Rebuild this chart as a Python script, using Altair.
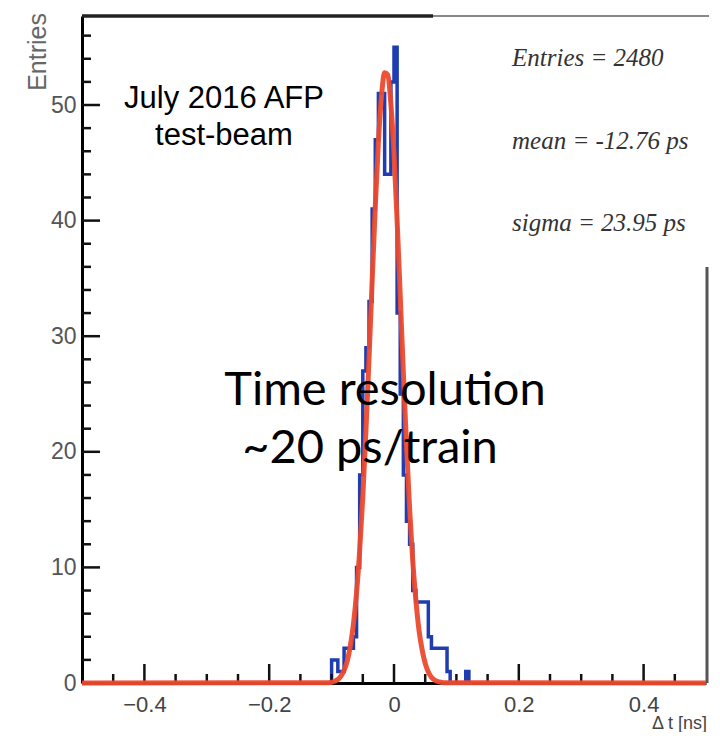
import altair as alt
import pandas as pd

# ---------------- data ----------------
bin_width = 0.005
bin_left = [-0.100, -0.095, -0.090, -0.085, -0.080, -0.075, -0.070, -0.065, -0.060, -0.055,
            -0.050, -0.045, -0.040, -0.035, -0.030, -0.025, -0.020, -0.015, -0.010, -0.005,
            0.000, 0.005, 0.010, 0.015, 0.020, 0.025, 0.030, 0.035, 0.040, 0.045,
            0.050, 0.055, 0.060, 0.065, 0.070, 0.075, 0.080, 0.085, 0.090, 0.095,
            0.100, 0.105, 0.110, 0.115, 0.120]
counts = [2, 2, 1, 1, 3, 3, 3, 4, 10, 18,
          27, 29, 33, 41, 47, 51, 51, 44, 44, 52,
          55, 32, 25, 18, 14, 12, 8, 7, 7, 7,
          7, 4, 3, 3, 3, 3, 3, 1, 0, 0,
          0, 0, 0, 1, 0]

fit_x = [-0.5, -0.110, -0.105, -0.100, -0.095, -0.090, -0.085, -0.080, -0.075, -0.070,
         -0.065, -0.060, -0.055, -0.050, -0.045, -0.040, -0.035, -0.030, -0.025, -0.020,
         -0.015, -0.010, -0.005, 0.000, 0.005, 0.010, 0.015, 0.020, 0.025, 0.030,
         0.035, 0.040, 0.045, 0.050, 0.055, 0.060, 0.065, 0.070, 0.075, 0.080, 0.5]
fit_y = [0.0, 0.02, 0.03, 0.07, 0.15, 0.3, 0.6, 1.1, 1.9, 3.2,
         5.1, 7.8, 11.5, 16.1, 21.8, 28.1, 34.8, 41.2, 46.8, 50.8,
         52.8, 52.6, 50.1, 45.8, 40.0, 33.5, 26.8, 20.6, 15.1, 10.6,
         7.2, 4.6, 2.9, 1.7, 0.96, 0.5, 0.26, 0.13, 0.06, 0.03, 0.0]

x_major = [-0.4, -0.2, 0.0, 0.2, 0.4]
x_minor = [-0.45, -0.35, -0.3, -0.25, -0.15, -0.1, -0.05, 0.05, 0.1, 0.15, 0.25, 0.3, 0.35, 0.45]
y_major = [0, 10, 20, 30, 40, 50]
y_minor = [2, 4, 6, 8, 12, 14, 16, 18, 22, 24, 26, 28, 32, 34, 36, 38, 42, 44, 46, 48, 52, 54, 56]

title_lines = ["July 2016 AFP", "test-beam"]
big_lines = ["Time resolution", "~20 ps/train"]
stat_lines = ["Entries = 2480", "mean = -12.76 ps", "sigma = 23.95 ps"]

# ---------------- layout ----------------
W, H = 624, 667
XDOM = [-0.5, 0.5]
YDOM = [0, 57.7]
xs = alt.Scale(domain=XDOM, nice=False, zero=False)
ys = alt.Scale(domain=YDOM, nice=False, zero=False)

# histogram outline path built from the bins
pts = [(bin_left[0], 0)]
for l, c in zip(bin_left, counts):
    pts.append((l, c))
    pts.append((l + bin_width, c))
pts.append((bin_left[-1] + bin_width, 0))
hist_df = pd.DataFrame({"x": [p[0] for p in pts], "y": [p[1] for p in pts],
                        "o": list(range(len(pts)))})
fit_df = pd.DataFrame({"x": fit_x, "y": fit_y, "o": list(range(len(fit_x)))})

base_x = alt.X("x:Q", scale=xs,
               axis=alt.Axis(values=x_major, title=None, ticks=False, grid=False,
                             domainColor="black", domainWidth=3,
                             labelExpr="datum.value == 0 ? '0' : format(datum.value, '.1f')",
                             labelFontSize=22, labelColor="#444", labelFont="Liberation Sans",
                             labelPadding=11))
base_y = alt.Y("y:Q", scale=ys,
               axis=alt.Axis(values=y_major, title=None, ticks=False, grid=False,
                             domainColor="black", domainWidth=3,
                             labelFontSize=23, labelColor="#555", labelFont="Liberation Sans",
                             labelPadding=6))

hist = alt.Chart(hist_df).mark_line(color="#1f3cb0", strokeWidth=3.5, interpolate="linear").encode(
    x=base_x, y=base_y, order="o:Q")

fit = alt.Chart(fit_df).mark_line(color="#ec4a2e", strokeWidth=5, interpolate="monotone",
                                  opacity=0.95).encode(
    x=alt.X("x:Q", scale=xs), y=alt.Y("y:Q", scale=ys), order="o:Q")

xmaj = alt.Chart(pd.DataFrame({"x": x_major})).mark_rule(color="#111", strokeWidth=2.5).encode(
    x=alt.X("x:Q", scale=xs), y=alt.value(H), y2=alt.value(H - 19))
xmin = alt.Chart(pd.DataFrame({"x": x_minor})).mark_rule(color="#111", strokeWidth=2.5).encode(
    x=alt.X("x:Q", scale=xs), y=alt.value(H), y2=alt.value(H - 9))
ymaj = alt.Chart(pd.DataFrame({"y": y_major})).mark_rule(color="#111", strokeWidth=2.5).encode(
    y=alt.Y("y:Q", scale=ys), x=alt.value(0), x2=alt.value(18))
ymin = alt.Chart(pd.DataFrame({"y": y_minor})).mark_rule(color="#111", strokeWidth=2.5).encode(
    y=alt.Y("y:Q", scale=ys), x=alt.value(0), x2=alt.value(9))

# frame pieces
top_thick = alt.Chart(pd.DataFrame({"a": [0]})).mark_rule(color="#222", strokeWidth=3.5).encode(
    x=alt.value(0), x2=alt.value(351), y=alt.value(0))
top_thin = alt.Chart(pd.DataFrame({"a": [0]})).mark_rule(color="#888", strokeWidth=2).encode(
    x=alt.value(351), x2=alt.value(W + 3), y=alt.value(0))
right_line = alt.Chart(pd.DataFrame({"a": [0]})).mark_rule(color="#555", strokeWidth=3).encode(
    x=alt.value(W + 1), y=alt.value(251), y2=alt.value(H))

# texts
t1 = alt.Chart(pd.DataFrame({"t": title_lines, "px": [142, 142], "py": [92, 129]})).mark_text(
    font="Liberation Sans", fontSize=31, color="black", align="center", baseline="alphabetic").encode(
    text="t:N", x=alt.X("px:Q", scale=None), y=alt.Y("py:Q", scale=None))
t2 = alt.Chart(pd.DataFrame({"t": big_lines, "px": [303, 288], "py": [389, 447]})).mark_text(
    font="Lato", fontSize=47, color="black", align="center", baseline="alphabetic").encode(
    text="t:N", x=alt.X("px:Q", scale=None), y=alt.Y("py:Q", scale=None))
t3 = alt.Chart(pd.DataFrame({"t": stat_lines, "px": [430, 430, 430], "py": [50, 133, 215]})).mark_text(
    font="Liberation Serif", fontStyle="italic", fontSize=25, color="#333", align="left",
    baseline="alphabetic").encode(
    text="t:N", x=alt.X("px:Q", scale=None), y=alt.Y("py:Q", scale=None))
ytitle = alt.Chart(pd.DataFrame({"t": ["Entries"]})).mark_text(
    font="Liberation Sans", fontSize=25, color="#666", angle=270, align="right",
    baseline="middle").encode(text="t:N", x=alt.value(-44), y=alt.value(-3))
xtitle = alt.Chart(pd.DataFrame({"t": ["Δ t [ns]"]})).mark_text(
    font="Liberation Sans", fontSize=18, color="#444", align="right",
    baseline="alphabetic").encode(text="t:N", x=alt.value(W + 1), y=alt.value(H + 46))

chart = alt.layer(hist, xmaj, xmin, ymaj, ymin, top_thick, top_thin, right_line, fit,
                  t1, t2, t3, ytitle, xtitle).properties(
    width=W, height=H, autosize=alt.AutoSizeParams(type="none"),
    padding={"left": 74, "top": 8, "right": 6, "bottom": 49},
    background="white"
).configure_view(stroke=None)

chart.save("out.html", embed_options={"renderer": "svg", "actions": False})
